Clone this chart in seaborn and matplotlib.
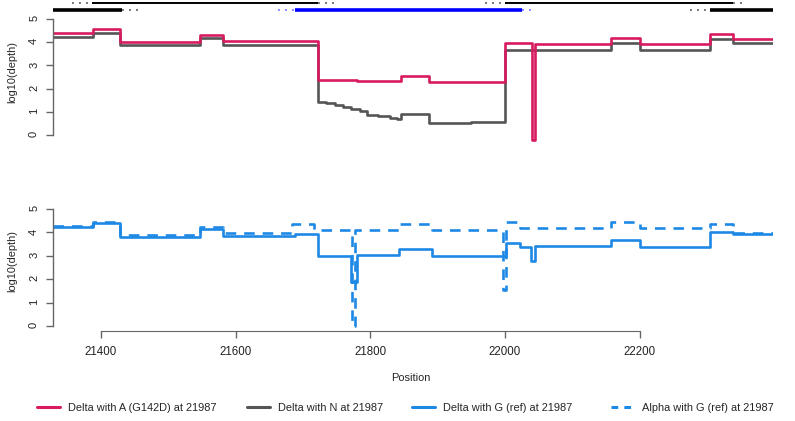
import numpy as np
import pandas as pd
import seaborn as sns
import matplotlib.pyplot as plt
from matplotlib.lines import Line2D

# ---- data ----
# top panel: Delta with A (G142D) at 21987
red_pos = [21329, 21388, 21429, 21490, 21547, 21582, 21660, 21722, 21780, 21846,
           21887, 22000, 22040, 22044, 22157, 22200, 22260, 22304, 22338, 22398]
red_val = [4.38, 4.56, 4.03, 4.01, 4.32, 4.05, 4.07, 2.37, 2.32, 2.56,
           2.28, 3.95, -0.20, 3.93, 4.19, 3.92, 3.94, 4.35, 4.12, 4.12]

# top panel: Delta with N at 21987
gray_pos = [21329, 21388, 21429, 21547, 21582, 21722, 21735, 21748, 21760, 21772,
            21785, 21795, 21812, 21830, 21840, 21846, 21887, 21950, 22000, 22157,
            22200, 22304, 22338, 22398]
gray_val = [4.21, 4.41, 3.87, 4.17, 3.89, 1.41, 1.36, 1.30, 1.22, 1.10,
            1.02, 0.87, 0.80, 0.72, 0.68, 0.91, 0.53, 0.55, 3.66, 3.95,
            3.66, 4.12, 3.95, 3.95]

# bottom panel: Delta with G (ref) at 21987
blue_pos = [21329, 21388, 21429, 21547, 21582, 21688, 21722, 21771, 21780, 21842,
            21891, 22001, 22022, 22039, 22045, 22157, 22200, 22304, 22338, 22398]
blue_val = [4.23, 4.40, 3.82, 4.13, 3.86, 3.92, 3.00, 1.90, 3.02, 3.28,
            3.00, 3.56, 3.39, 2.78, 3.40, 3.67, 3.39, 4.03, 3.92, 3.92]

# bottom panel: Alpha with G (ref) at 21987
alpha_pos = [21329, 21388, 21429, 21547, 21582, 21684, 21716, 21773, 21777, 21842,
             21891, 21997, 22001, 22022, 22157, 22200, 22304, 22338, 22398]
alpha_val = [4.27, 4.43, 3.89, 4.24, 3.99, 4.38, 4.12, 0.00, 4.12, 4.38,
             4.12, 1.54, 4.46, 4.17, 4.43, 4.17, 4.38, 3.96, 3.96]

labels = ["Delta with A (G142D) at 21987", "Delta with N at 21987",
          "Delta with G (ref) at 21987", "Alpha with G (ref) at 21987"]

# amplicons: left primer start, insert start, insert end, right primer end, row
amp_lp = [21300, 21357, 21663, 21970, 22275]
amp_start = [21300, 21387, 21688, 22000, 22304]
amp_end = [21431, 21722, 22025, 22338, 22450]
amp_rp = [21458, 21747, 22044, 22359, 22470]
amp_row = [2, 1, 2, 1, 2]
amp_col = ["black", "black", "blue", "black", "black"]

RED = "#D81B60"
GRAY = "#555555"
BLUE = "#1E88E5"
AX = "#666666"

sns.set_style("white")
plt.rcParams["font.family"] = ["Liberation Sans", "DejaVu Sans"]

W, H = 795, 421
fig = plt.figure(figsize=(W / 100, H / 100), dpi=100)
x0, x1 = 53, 773
XL = (21329, 22398)


def axes_px(top, bottom):
    return fig.add_axes([x0 / W, 1 - bottom / H, (x1 - x0) / W, (bottom - top) / H])


# amplicon track
ax_a = axes_px(0, 14)
ax_a.set_xlim(XL)
ax_a.set_ylim(14, 0)
ax_a.axis("off")
for lp, s, e, rp, row, c in zip(amp_lp, amp_start, amp_end, amp_rp, amp_row, amp_col):
    yy = 3 if row == 1 else 10
    lw = 1.4 if row == 1 else 2.6
    dotc = "#777777" if c == "black" else "#8888ff"
    ax_a.hlines(yy, s, e, color=c, lw=lw)
    ax_a.hlines(yy, lp, s, color=dotc, lw=1.4, linestyles=(0, (1, 2.6)))
    ax_a.hlines(yy, e, rp, color=dotc, lw=1.4, linestyles=(0, (1, 2.6)))

top = pd.concat([
    pd.DataFrame({"pos": gray_pos, "val": gray_val, "series": labels[1]}),
    pd.DataFrame({"pos": red_pos, "val": red_val, "series": labels[0]}),
])
bot = pd.concat([
    pd.DataFrame({"pos": alpha_pos, "val": alpha_val, "series": labels[3]}),
    pd.DataFrame({"pos": blue_pos, "val": blue_val, "series": labels[2]}),
])

# top panel
ax1 = axes_px(12.04, 141.96)
sns.lineplot(data=top, x="pos", y="val", hue="series",
             palette={labels[0]: RED, labels[1]: GRAY},
             drawstyle="steps-post", estimator=None, lw=1.9, legend=False, ax=ax1)
ax1.set_xlim(XL)
ax1.set_ylim(-0.3, 5.3)

# bottom panel
ax2 = axes_px(202, 331)
sns.lineplot(data=bot, x="pos", y="val", hue="series", style="series",
             palette={labels[2]: BLUE, labels[3]: BLUE},
             dashes={labels[2]: "", labels[3]: (4, 3)},
             drawstyle="steps-post", estimator=None, lw=1.9, legend=False, ax=ax2)
ax2.set_xlim(XL)
ax2.set_ylim(-0.214, 5.3)

for ax in (ax1, ax2):
    ax.set_xlabel("")
    ax.set_ylabel("")
    ax.set_yticks([0, 1, 2, 3, 4, 5])
    for sp in ("top", "right", "bottom"):
        ax.spines[sp].set_visible(False)
    ax.spines["left"].set_bounds(0, 5)
    ax.spines["left"].set_color(AX)
    ax.spines["left"].set_linewidth(1)
    ax.tick_params(axis="y", left=True, length=5, width=1, color=AX,
                   labelrotation=90, labelsize=8, pad=5, labelcolor="#222222")
    ax.patch.set_alpha(0)

ax1.set_xticks([])
ax2.spines["bottom"].set_visible(True)
ax2.spines["bottom"].set_bounds(21400, 22200)
ax2.spines["bottom"].set_color(AX)
ax2.set_xticks([21400, 21600, 21800, 22000, 22200])
ax2.tick_params(axis="x", bottom=True, length=5, width=1, color=AX,
                labelsize=8.3, pad=6, labelcolor="#222222")

fig.text(12 / W, 1 - 72 / H, "log10(depth)", rotation=90, ha="center", va="center", fontsize=7.9)
fig.text(12 / W, 1 - 261 / H, "log10(depth)", rotation=90, ha="center", va="center", fontsize=7.9)
fig.text(411 / W, 1 - 378 / H, "Position", ha="center", va="center", fontsize=7.9)

# legend, one entry at a time to keep R's spacing
handles = [Line2D([], [], color=RED, lw=2.2),
           Line2D([], [], color=GRAY, lw=2.2),
           Line2D([], [], color=BLUE, lw=2.2),
           Line2D([], [], color=BLUE, lw=2.2, dashes=(2.2, 2.0))]
leg_x = [37, 247, 412, 611]
for h, lab, lx in zip(handles, labels, leg_x):
    lg = fig.legend([h], [lab], loc="center left", bbox_to_anchor=(lx / W, 1 - 408 / H),
                    frameon=False, fontsize=7.9, handlelength=2.1, handletextpad=0.7,
                    borderpad=0, borderaxespad=0)

fig.savefig("out.png", dpi=100)
